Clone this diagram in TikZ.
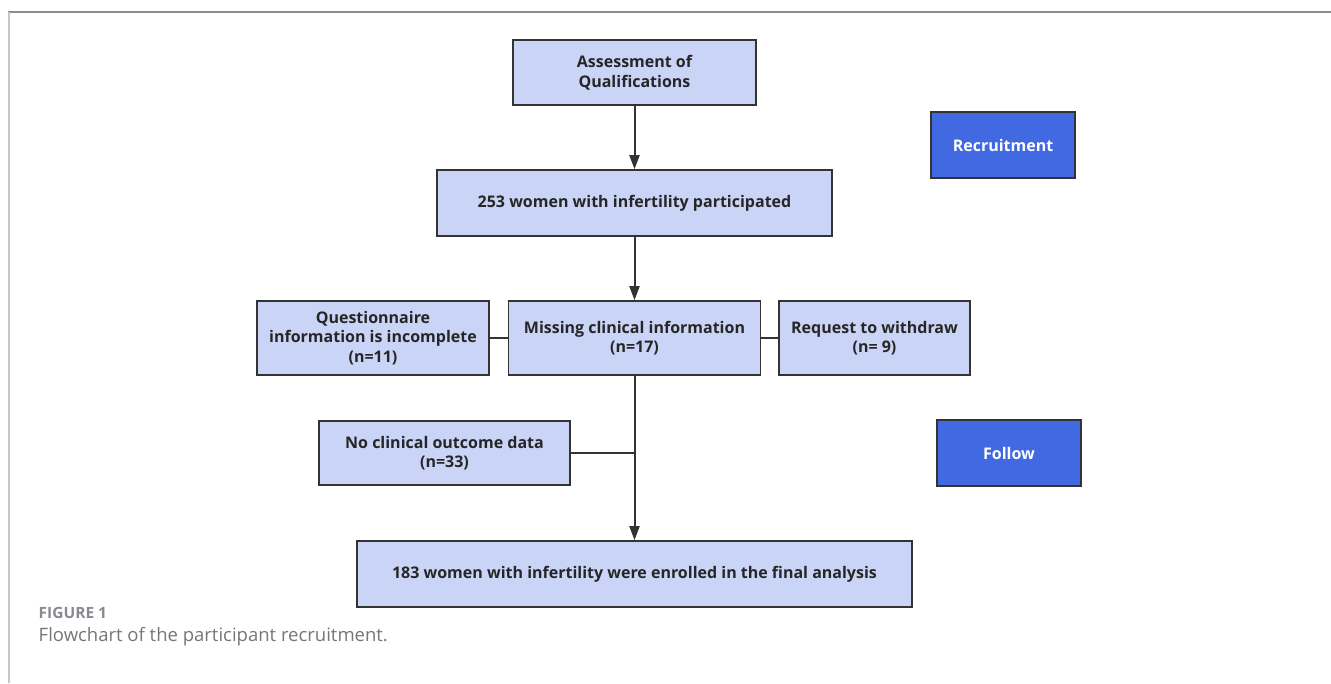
\documentclass[tikz,border=0pt]{standalone}
\usepackage{fontspec}
\setmainfont{Open Sans}
\usetikzlibrary{arrows.meta}
\definecolor{boxblue}{HTML}{CAD4F6}
\definecolor{tagblue}{HTML}{4169E1}
\definecolor{linegray}{HTML}{333333}
\definecolor{capgray}{HTML}{74767C}

\begin{document}
\begin{tikzpicture}[x=1pt, y=-1pt, thick,
    box/.style={rectangle, draw=linegray, line width=1.6pt, fill=boxblue, align=center, inner sep=0pt, text=black!85, font=\fontsize{16}{19.5}\selectfont\bfseries},
    tag/.style={box, fill=tagblue, text=white},
    link/.style={draw=linegray, line width=2pt},
    arr/.style={link, -{Triangle[length=14pt,width=10pt]}}]
        \useasboundingbox (0,0) rectangle (1331,683);
        \draw[draw=black!45, line width=1.4pt] (8,12) -- (1331,12);
        \draw[draw=black!22, line width=2pt] (9,12) -- (9,683);

        \node[box, minimum width=243, minimum height=65] (assess) at (634.5,72.5) {Assessment of\\Qualifications};
        \node[box, minimum width=395, minimum height=66] (women) at (634.5,203) {253 women with infertility participated};
        \node[tag, minimum width=144, minimum height=66] (recruit) at (1003,145) {Recruitment};
        \node[box, minimum width=232, minimum height=74] (quest) at (373,338) {Questionnaire\\information is incomplete\\(n=11)};
        \node[box, minimum width=252, minimum height=74] (missing) at (634.5,338) {Missing clinical information\\(n=17)};
        \node[box, minimum width=191, minimum height=74] (withdraw) at (874.5,338) {Request to withdraw\\(n= 9)};
        \node[box, minimum width=251, minimum height=64] (nodata) at (444.5,453) {No clinical outcome data\\(n=33)};
        \node[tag, minimum width=144, minimum height=66] (follow) at (1009,453) {Follow};
        \node[box, minimum width=555, minimum height=66] (final) at (634.5,574) {183 women with infertility were enrolled in the final analysis};
        \coordinate (join) at (missing.south |- nodata.east);

        \draw[arr] (assess) -- (women);
        \draw[arr] (women) -- (missing);
        \draw[link] (quest) -- (missing);
        \draw[link] (missing) -- (withdraw);
        \draw[arr] (missing) -- (final);
        \draw[link] (nodata) -- (join);

        \node[anchor=west, text=capgray!85, font=\fontsize{15.5}{18}\selectfont\bfseries] (figno) at (35,613) {FIGURE 1};
        \node[anchor=west, text=capgray, font=\fontsize{18.5}{21}\selectfont] (caption) at (35,637) {Flowchart of the participant recruitment.};
    \end{tikzpicture}
\end{document}
